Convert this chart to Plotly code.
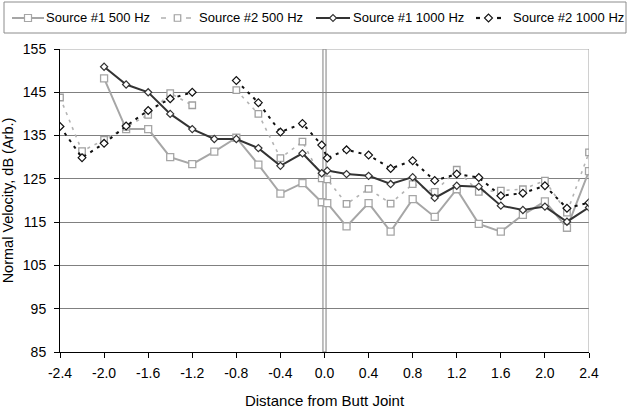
import plotly.graph_objects as go

x = [-2.4, -2.2, -2.0, -1.8, -1.6, -1.4, -1.2, -1.0, -0.8, -0.6, -0.4, -0.2, -0.025,
     0.025, 0.2, 0.4, 0.6, 0.8, 1.0, 1.2, 1.4, 1.6, 1.8, 2.0, 2.2, 2.4]

s1_500 = [None, None, 148.2, 136.5, 136.5, 130.0, 128.4, 131.3, 134.5, 128.3, 121.6, 124.0, 119.6,
          119.4, 114.0, 119.4, 112.8, 120.3, 116.2, 122.6, 114.6, 112.8, 116.7, 119.8, 113.7, 126.8]
s2_500 = [143.8, 131.4, 134.0, 137.0, 139.8, 144.8, 142.0, None, 145.5, 140.0, 129.8, 133.6, 125.1,
          124.9, 119.2, 122.7, 119.3, 123.8, 122.0, 127.1, 122.0, 122.3, 122.6, 124.6, 117.2, 131.1]
s1_1000 = [None, None, 150.9, 146.8, 145.0, 140.0, 136.5, 134.2, 134.2, 132.1, 128.0, 130.9, 126.3,
           126.9, 126.1, 125.7, 123.8, 125.4, 120.6, 123.4, 123.2, 118.8, 117.8, 118.6, 115.1, 118.4]
s2_1000 = [137.1, 129.9, 133.2, 137.2, 140.8, 143.5, 145.0, None, 147.7, 142.6, 135.8, 137.8, 132.8,
           129.8, 131.7, 130.5, 127.4, 129.2, 124.6, 126.1, 125.3, 121.1, 121.7, 123.4, 118.2, 119.5]

names = ["Source #1 500 Hz", "Source #2 500 Hz", "Source #1 1000 Hz", "Source #2 1000 Hz"]
xticks = [-2.4, -2.0, -1.6, -1.2, -0.8, -0.4, 0.0, 0.4, 0.8, 1.2, 1.6, 2.0, 2.4]
yticks = [85, 95, 105, 115, 125, 135, 145, 155]

C1, C2, C3, C4 = "#a6a6a6", "#b4b4b4", "#333333", "#111111"
styles = [
    dict(line=dict(color=C1, width=2),
         marker=dict(symbol="square", size=7, color="white", line=dict(color=C1, width=1.3))),
    dict(line=dict(color=C2, width=1.6, dash="3px,5px"),
         marker=dict(symbol="square", size=6.5, color="white", line=dict(color="#a0a0a0", width=1.3))),
    dict(line=dict(color=C3, width=2),
         marker=dict(symbol="diamond", size=5.5, color="white", line=dict(color=C3, width=1.2))),
    dict(line=dict(color=C4, width=2, dash="3px,5px"),
         marker=dict(symbol="diamond", size=6, color="white", line=dict(color=C4, width=1.2))),
]

fig = go.Figure()
for name, ys, st in zip(names, [s1_500, s2_500, s1_1000, s2_1000], styles):
    fig.add_trace(go.Scatter(x=x, y=ys, name=name, mode="lines+markers", showlegend=False, **st))

# geometry of plot area in pixels (for legend decorations in paper coords)
L, R, T, B = 60, 589, 49, 352
def px(v):
    return (v - L) / (R - L)
def py(v):
    return (B - v) / (B - T)

shapes = []
# butt joint double line
shapes.append(dict(type="rect", x0=-0.014, x1=0.014, y0=85, y1=155, xref="x", yref="y",
                   line=dict(color="#7f7f7f", width=1), fillcolor="white", layer="below"))
# right border
shapes.append(dict(type="line", x0=2.4, x1=2.4, y0=85, y1=155, xref="x", yref="y",
                   line=dict(color="#a0a0a0", width=1), layer="above"))
# top border lighter
shapes.append(dict(type="line", x0=-2.4, x1=2.4, y0=155, y1=155, xref="x", yref="y",
                   line=dict(color="#a6a6a6", width=1), layer="above"))

# legend box
shapes.append(dict(type="rect", xref="paper", yref="paper", x0=px(4), x1=px(626), y0=py(33), y1=py(2),
                   line=dict(color="#8c8c8c", width=1), fillcolor="white"))
ly = 18

def seg(a, b, color, width):
    shapes.append(dict(type="line", xref="paper", yref="paper", x0=px(a), x1=px(b), y0=py(ly), y1=py(ly),
                       line=dict(color=color, width=width)))

def square(cx, s, color):
    h = s / 2
    shapes.append(dict(type="rect", xref="paper", yref="paper", x0=px(cx - h), x1=px(cx + h),
                       y0=py(ly + h), y1=py(ly - h), fillcolor="white", line=dict(color=color, width=1.2)))

def diamond(cx, s, color):
    h = s / 2
    path = (f"M {px(cx - h)} {py(ly)} L {px(cx)} {py(ly - h)} L {px(cx + h)} {py(ly)} "
            f"L {px(cx)} {py(ly + h)} Z")
    shapes.append(dict(type="path", xref="paper", yref="paper", path=path, fillcolor="white",
                       line=dict(color=color, width=1.1)))

# item 1
seg(12, 44, C1, 2); square(28, 7, C1)
# item 2
seg(161, 166, C2, 1.6); seg(186, 191, C2, 1.6); square(177.5, 6.5, "#a0a0a0")
# item 3
seg(316, 350, C3, 2); diamond(333, 7, C3)
# item 4
seg(476, 480, C4, 2.2); seg(497, 501, C4, 2.2); diamond(488.5, 8, C4)

annotations = []
for tx, name in zip([45, 198, 352, 512], names):
    annotations.append(dict(xref="paper", yref="paper", x=px(tx), y=py(ly), text=name,
                            showarrow=False, xanchor="left", yanchor="middle", borderpad=0,
                            font=dict(size=13, color="black")))

fig.update_layout(
    width=627, height=414,
    margin=dict(l=L, r=627 - R, t=T, b=414 - B, autoexpand=False),
    paper_bgcolor="white", plot_bgcolor="white",
    font=dict(family="Liberation Sans, Arial, sans-serif", size=14, color="black"),
    showlegend=False,
    shapes=shapes, annotations=annotations,
    xaxis=dict(range=[-2.4, 2.4], tickvals=xticks, ticktext=[f"{v:.1f}" for v in xticks],
               showgrid=False, zeroline=False, showline=True, linecolor="black", linewidth=1,
               ticks="outside", ticklen=5, tickcolor="black", ticklabelstandoff=3, automargin=False,
               title=dict(text="Distance from Butt Joint", font=dict(size=15), standoff=15)),
    yaxis=dict(range=[85, 155], tickvals=yticks,
               showgrid=True, gridcolor="#808080", gridwidth=1, zeroline=False,
               showline=True, linecolor="black", linewidth=1,
               ticks="outside", ticklen=5, tickcolor="black", ticklabelstandoff=5, automargin=False,
               title=dict(text="Normal Velocity, dB (Arb.)", font=dict(size=14.5), standoff=8)),
)

fig.write_html("out.html")
